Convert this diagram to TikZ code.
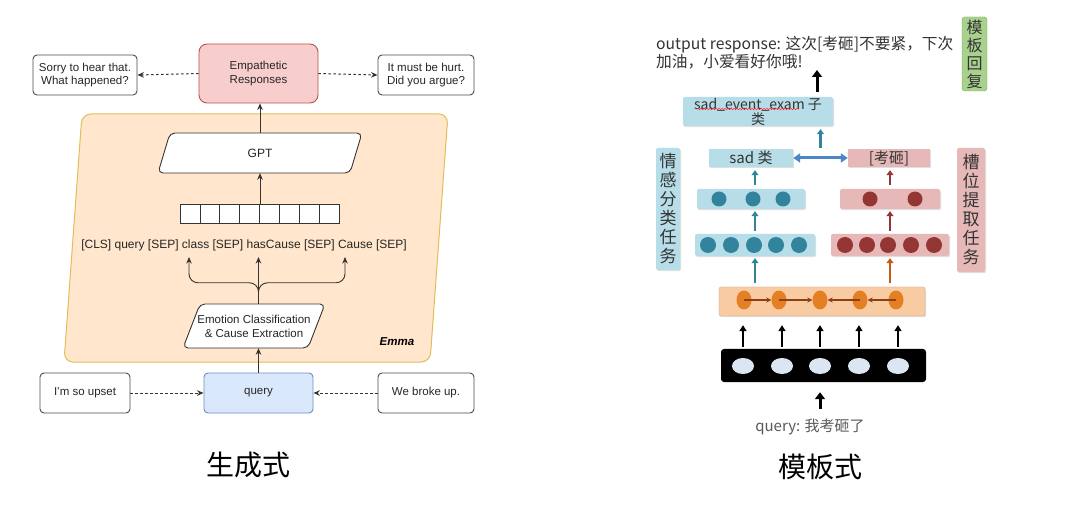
\documentclass[tikz,border=0pt]{standalone}
\usepackage{fontspec}
\setmainfont{Liberation Sans}
\newfontfamily\cjk{Noto Sans CJK SC}
\usetikzlibrary{arrows.meta,calc,shadows,decorations.pathmorphing,shapes.geometric}
\definecolor{pinkfill}{HTML}{F8CECC}
\definecolor{pinkdraw}{HTML}{B85450}
\definecolor{emmafill}{HTML}{FFE6CC}
\definecolor{emmadraw}{HTML}{E0BE5A}
\definecolor{qfill}{HTML}{DAE8FC}
\definecolor{qdraw}{HTML}{6C8EBF}
\definecolor{lblue}{HTML}{B7DDE8}
\definecolor{teal}{HTML}{31849B}
\definecolor{lpink}{HTML}{E6B9B8}
\definecolor{dred}{HTML}{943634}
\definecolor{brownarr}{HTML}{C55A11}
\definecolor{greenfill}{HTML}{A9D18E}
\definecolor{greendraw}{HTML}{70AD47}
\definecolor{peach}{HTML}{F8CBA3}
\definecolor{orangedot}{HTML}{E47F24}
\definecolor{lstmarr}{HTML}{8C3F14}
\definecolor{embdot}{HTML}{DCE6F2}
\definecolor{dblarr}{HTML}{4A86C8}
\begin{document}
\begin{tikzpicture}[x=1pt,y=-1pt,
  box/.style={draw=black!70, rounded corners=4pt, fill=white, line width=0.9pt,
    font=\fontsize{11.5}{13.5}\selectfont, align=center, inner sep=0pt, text=black!85},
  arr/.style={-{Stealth[length=6.5pt,width=5.5pt]}, line width=0.9pt, draw=black!80},
  dotarr/.style={-{Stealth[length=6.5pt,width=5.5pt]}, line width=1pt, draw=black!80, dash pattern=on 2.5pt off 2.5pt},
  para/.style={draw=black!80, fill=white, line width=0.9pt, rounded corners=5pt},
  cell/.style={draw=black!80, line width=0.8pt, fill=white, minimum width=19.9pt, minimum height=19pt, inner sep=0pt},
  rbox/.style={inner sep=0pt, align=center, drop shadow={opacity=0.25, shadow xshift=1pt, shadow yshift=-1.2pt}},
  rarr/.style={-{Triangle[length=5pt,width=7pt]}, line width=2.2pt},
  bigarr/.style={-{Triangle[length=7pt,width=10pt]}, line width=3pt, draw=black},
  embarr/.style={-{Triangle[length=6pt,width=7pt]}, line width=1.8pt, draw=black},
  lstmar/.style={-{Stealth[length=5pt,width=5pt]}, line width=1.6pt, draw=lstmarr},
]
\useasboundingbox[fill=white] (0,0) rectangle (1080,513);

% ================= LEFT =================
\draw[fill=emmafill, draw=emmadraw, line width=1pt, rounded corners=9pt]
  (82,114) -- (448,114) -- (430,362) -- (64,362) -- cycle;
\node[font=\bfseries\itshape\fontsize{11.5}{13}\selectfont] (emma) at (397,342) {Emma};

\node[box, fill=pinkfill, draw=pinkdraw, minimum width=119pt, minimum height=59pt, rounded corners=8pt] (emp) at (258.5,73.5) {Empathetic\\Responses};
\node[box, minimum width=104pt, minimum height=40pt] (sorry) at (85,75) {Sorry to hear that.\\What happened?};
\node[box, minimum width=96pt, minimum height=40pt] (hurt) at (426,75) {It must be hurt.\\Did you argue?};

% GPT parallelogram
\draw[para] (170,133) -- (362,133) -- (350,173) -- (158,173) -- cycle;
\node[font=\fontsize{12}{14}\selectfont, text=black!85, minimum width=192pt, minimum height=40pt, inner sep=0pt] (gpt) at (260,153) {GPT};

% token cells
\foreach \i in {1,...,8}
  \node[cell] (c\i) at ({180+19.9*(\i-0.5)},213.5) {};

\node[font=\fontsize{12}{14}\selectfont, text=black!85] (seq) at (244,245) {[CLS] query [SEP] class [SEP] hasCause [SEP] Cause [SEP]};

% Emotion parallelogram
\draw[para] (200,304) -- (325,304) -- (308,348) -- (183,348) -- cycle;
\node[font=\fontsize{11.5}{14}\selectfont, align=center, minimum width=125pt, minimum height=44pt, inner sep=0pt, text=black!85] (emo) at (254,326) {Emotion Classification\\\& Cause Extraction};

\node[box, fill=qfill, draw=qdraw, minimum width=109pt, minimum height=40pt] (query) at (258.5,393) {query};
\node[box, minimum width=90pt, minimum height=40pt] (upset) at (85,393) {I'm so upset};
\node[box, minimum width=96pt, minimum height=40pt] (broke) at (426,393) {We broke up.};

\coordinate (bl) at (189,257);
\coordinate (bc) at (258.5,257);
\coordinate (br) at (345,257);

% connectors
\draw[dotarr] (emp.west) -- (sorry.east);
\draw[dotarr] (emp.east) -- (hurt.west);
\draw[dotarr] (upset.east) -- (query.west);
\draw[dotarr] (broke.west) -- (query.east);
\draw[arr] (query.north) -- (query.north |- emo.south);
\draw[arr] (query.north |- emo.north) -- (bc);
\draw[arr, rounded corners=9pt] (query.north |- emo.north) -- ++(0,-21) -| (bl);
\draw[arr, rounded corners=9pt] (query.north |- emo.north) -- ++(0,-21) -| (br);
\draw[arr] (c4.north east) -- (c4.north east |- gpt.south);
\draw[arr] (gpt.north) -- (gpt.north |- emp.south);

\node[font=\cjk\fontsize{28}{30}\selectfont] (gen) at (248,465) {生成式};

% ================= RIGHT =================
\node[anchor=north west, align=left, inner sep=0pt, text=black!80, font=\cjk\fontsize{15.7}{18.5}\selectfont] (out) at (656,36) {output response: 这次[考砸]不要紧，下次\\加油，小爱看好你哦!};
\node[fill=greenfill, draw=greendraw, rounded corners=3pt, minimum width=25pt, minimum height=74pt, inner sep=0pt, align=center, text=black!80, font=\cjk\fontsize{16}{18}\selectfont] (tmpl) at (974.5,54) {模\\板\\回\\复};

\node[rbox, fill=lblue, rounded corners=2pt, minimum width=150pt, minimum height=29pt, text=black!80, font=\cjk\fontsize{14}{15}\selectfont] (sadev) at (758,111.5) {sad\_event\_exam 子\\类};
\draw[red!80, line width=0.6pt, decorate, decoration={snake, amplitude=0.7pt, segment length=3pt}] (697,109) -- (799,109);

\node[rbox, fill=lblue, minimum width=84pt, minimum height=18pt, text=black!80, font=\cjk\fontsize{15}{16}\selectfont] (sadcls) at (751,158) {sad 类};
\node[rbox, fill=lpink, minimum width=82pt, minimum height=18pt, text=black!80, font=\cjk\fontsize{15}{16}\selectfont] (kaoza) at (889,158) {[考砸]};

\node[rbox, fill=lblue, rounded corners=2pt, minimum width=24pt, minimum height=122pt, text=black!80, font=\cjk\fontsize{17}{19}\selectfont] (emotask) at (668,209) {情\\感\\分\\类\\任\\务};
\node[rbox, fill=lpink, rounded corners=2pt, minimum width=28pt, minimum height=124pt, text=black!80, font=\cjk\fontsize{17}{19}\selectfont] (slottask) at (971,210) {槽\\位\\提\\取\\任\\务};

% layers
\node[rbox, fill=lblue, rounded corners=2pt, minimum width=108pt, minimum height=20pt] (bl3) at (751,199) {};
\node[rbox, fill=lpink, rounded corners=2pt, minimum width=100pt, minimum height=20pt] (rl3) at (890,199) {};
\node[rbox, fill=lblue, rounded corners=2pt, minimum width=120pt, minimum height=22pt] (bl2) at (755,245) {};
\node[rbox, fill=lpink, rounded corners=2pt, minimum width=118pt, minimum height=22pt] (rl2) at (890,245) {};
\foreach \x [count=\i] in {719,753,783}
  \node[circle, fill=teal, minimum size=15pt, inner sep=0pt] (b3\i) at (\x,199) {};
\foreach \x [count=\i] in {870,915}
  \node[circle, fill=dred, minimum size=15pt, inner sep=0pt] (r3\i) at (\x,199) {};
\foreach \x [count=\i] in {708,731,754,776,799}
  \node[circle, fill=teal, minimum size=16pt, inner sep=0pt] (b2\i) at (\x,245) {};
\foreach \x [count=\i] in {845,867,888,911,934}
  \node[circle, fill=dred, minimum size=16pt, inner sep=0pt] (r2\i) at (\x,245) {};

% BiLSTM
\node[rbox, fill=peach, draw=peach!80!black, line width=0.3pt, rounded corners=2pt, minimum width=206pt, minimum height=29pt] (lstm) at (822,301.5) {};
\foreach \x [count=\i] in {744,779,820,860,896}
  \node[ellipse, fill=orangedot, minimum width=15pt, minimum height=19pt, inner sep=0pt] (l\i) at (\x,300) {};
\draw[lstmar] (l1.center) -- (l2.west);
\draw[lstmar] (l2.center) -- (l3.west);
\draw[lstmar] (l4.center) -- (l3.east);
\draw[lstmar] (l5.center) -- (l4.east);

% embedding
\node[fill=black, rounded corners=3pt, minimum width=205pt, minimum height=33pt, inner sep=0pt] (emb) at (823.5,365.5) {};
\foreach \x [count=\i] in {743,782,820,859,898}
  \node[ellipse, fill=embdot, minimum width=22pt, minimum height=16pt, inner sep=0pt] (e\i) at (\x,366) {};

\foreach \i in {1,...,5}
  \draw[embarr, shorten <=2pt, shorten >=9pt] (e\i |- emb.north) -- (e\i |- lstm.south);

\node[text=black!65, font=\cjk\fontsize{15}{16}\selectfont] (q2) at (810,427) {query: 我考砸了};
\node[font=\cjk\fontsize{28}{30}\selectfont] (tmplstyle) at (820,467) {模板式};

% right connectors
\draw[bigarr, shorten <=6pt, shorten >=10pt] (e3 |- q2.north) -- (e3 |- emb.south);
\draw[rarr, draw=teal, shorten <=4pt, shorten >=2pt] (bl2.south |- lstm.north) -- (bl2.south);
\draw[rarr, draw=brownarr, shorten <=4pt, shorten >=2pt] (rl2.south |- lstm.north) -- (rl2.south);
\draw[rarr, draw=teal, shorten <=3pt, shorten >=2pt] (bl2.north) -- (bl2.north |- bl3.south);
\draw[rarr, draw=dred, shorten <=3pt, shorten >=2pt] (rl2.north) -- (rl2.north |- rl3.south);
\draw[rarr, draw=teal, shorten <=4pt, shorten >=3pt] (bl2.north |- bl3.north) -- (bl2.north |- sadcls.south);
\draw[rarr, draw=dred, shorten <=4pt, shorten >=3pt] (rl2.north |- rl3.north) -- (rl2.north |- sadcls.south);
\draw[{Triangle[length=7pt,width=9pt]}-{Triangle[length=7pt,width=9pt]}, line width=3pt, draw=dblarr] (sadcls.east) -- (kaoza.west);
\coordinate (mid) at ($(sadcls.east)!0.5!(kaoza.west)$);
\draw[rarr, draw=teal, shorten <=10pt, shorten >=3pt] (mid) -- (mid |- sadev.south);
\coordinate (outarr) at (817,70);
\draw[bigarr, shorten <=5pt] (sadev.north -| outarr) -- (outarr);
\end{tikzpicture}
\end{document}
